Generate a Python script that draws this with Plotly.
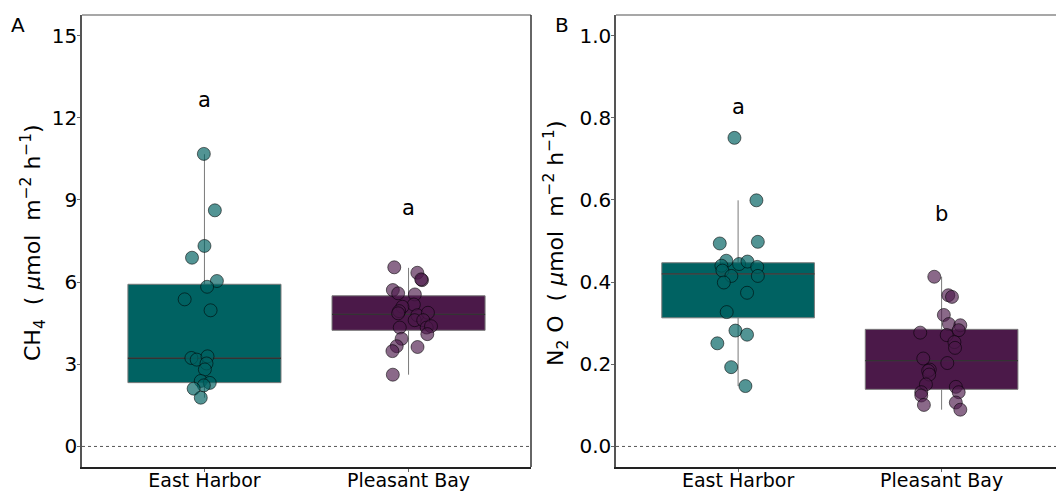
import plotly.graph_objects as go
from plotly.subplots import make_subplots

# ---------------- data ----------------
sites = ["East Harbor", "Pleasant Bay"]
site_pos = [1, 2]

# Panel A: CH4 flux (umol m-2 h-1)
ch4_eh = [10.68, 8.62, 7.32, 6.89, 6.04, 5.83, 5.37, 4.97, 3.23, 3.17, 3.29, 3.03, 2.81, 2.39, 2.32, 2.23, 2.11, 1.78]
ch4_eh_jitter = [-0.003, 0.051, 0.0, -0.061, 0.061, 0.013, -0.097, 0.030, -0.064, -0.038, 0.015, 0.010, 0.002, -0.018, 0.026, -0.003, -0.053, -0.018]
ch4_pb = [6.54, 6.34, 6.07, 6.10, 5.71, 5.59, 5.55, 5.18, 5.10, 4.94, 4.86, 4.79, 4.88, 4.61, 4.61, 4.34, 4.39, 4.34, 4.10, 3.93, 3.66, 3.48, 3.63, 2.62]
ch4_pb_jitter = [-0.070, 0.043, 0.066, 0.062, -0.077, -0.051, 0.031, 0.026, -0.030, -0.046, -0.051, 0.043, 0.095, 0.030, 0.072, 0.089, 0.110, -0.043, 0.092, -0.034, -0.058, -0.079, 0.044, -0.077]

# box statistics: [East Harbor, Pleasant Bay]
ch4_q1 = [2.33, 4.24]
ch4_median = [3.22, 4.82]
ch4_q3 = [5.92, 5.50]
ch4_lower = [1.78, 2.62]
ch4_upper = [10.67, 6.52]
ch4_letters = ["a", "a"]
ch4_letter_y = [12.66, 8.70]

# Panel B: N2O flux (umol m-2 h-1)
n2o_eh = [0.751, 0.599, 0.494, 0.498, 0.452, 0.444, 0.450, 0.440, 0.437, 0.428, 0.415, 0.415, 0.399, 0.374, 0.327, 0.282, 0.272, 0.251, 0.193, 0.147]
n2o_eh_jitter = [-0.018, 0.090, -0.090, 0.097, -0.058, 0.005, 0.046, -0.082, 0.094, -0.077, -0.033, 0.097, -0.070, 0.044, -0.056, -0.013, 0.044, -0.102, -0.034, 0.036]
n2o_pb = [0.413, 0.368, 0.364, 0.320, 0.298, 0.295, 0.277, 0.283, 0.271, 0.254, 0.240, 0.214, 0.203, 0.187, 0.184, 0.175, 0.151, 0.132, 0.124, 0.145, 0.132, 0.101, 0.107, 0.0895]
n2o_pb_jitter = [-0.036, 0.033, 0.051, 0.011, 0.036, 0.092, -0.105, 0.084, 0.025, 0.063, 0.066, -0.090, 0.028, -0.058, -0.066, -0.061, -0.077, -0.100, -0.100, 0.070, 0.084, -0.087, 0.070, 0.092]

n2o_q1 = [0.313, 0.139]
n2o_median = [0.420, 0.209]
n2o_q3 = [0.447, 0.285]
n2o_lower = [0.147, 0.0895]
n2o_upper = [0.599, 0.413]
n2o_letters = ["a", "b"]
n2o_letter_y = [0.827, 0.566]

ch4_ticks = [0, 3, 6, 9, 12, 15]
n2o_ticks = [0.0, 0.2, 0.4, 0.6, 0.8, 1.0]
n2o_ticktext = ["0.0", "0.2", "0.4", "0.6", "0.8", "1.0"]

# ---------------- style ----------------
FONT = "DejaVu Sans"
box_fill = ["#006262", "#4B1949"]
pt_fill = ["rgba(0,98,98,0.68)", "rgba(75,25,73,0.65)"]
pt_line = "rgba(0,0,0,0.55)"
BOX_W = 0.75
W, H = 1056, 492

fig = make_subplots(rows=1, cols=2)
fig.update_layout(
    xaxis=dict(domain=[82 / W, 531 / W]),
    xaxis2=dict(domain=[616 / W, 1.0]),
)

panels = [
    (1, [ch4_eh, ch4_pb], [ch4_eh_jitter, ch4_pb_jitter], ch4_q1, ch4_median, ch4_q3, ch4_lower, ch4_upper,
     ch4_letters, ch4_letter_y),
    (2, [n2o_eh, n2o_pb], [n2o_eh_jitter, n2o_pb_jitter], n2o_q1, n2o_median, n2o_q3, n2o_lower, n2o_upper,
     n2o_letters, n2o_letter_y),
]

for col, vals, jits, q1, med, q3, lo, up, letters, ly in panels:
    for i in range(2):
        fig.add_trace(go.Box(
            x=[site_pos[i]], q1=[q1[i]], median=[med[i]], q3=[q3[i]],
            lowerfence=[lo[i]], upperfence=[up[i]],
            width=BOX_W, fillcolor=box_fill[i],
            line=dict(color="#7a7a7a", width=1), whiskerwidth=0,
            boxpoints=False, showlegend=False, hoverinfo="skip",
        ), row=1, col=col)
        # median line, darker than box border
        fig.add_trace(go.Scatter(
            x=[site_pos[i] - BOX_W / 2, site_pos[i] + BOX_W / 2], y=[med[i], med[i]],
            mode="lines", line=dict(color="#333333", width=1.3),
            showlegend=False, hoverinfo="skip",
        ), row=1, col=col)
    for i in range(2):
        fig.add_trace(go.Scatter(
            x=[site_pos[i] + j for j in jits[i]], y=vals[i], mode="markers",
            marker=dict(size=13, color=pt_fill[i], line=dict(color=pt_line, width=1)),
            showlegend=False, hoverinfo="skip",
        ), row=1, col=col)
    xr = "x" if col == 1 else "x2"
    yr = "y" if col == 1 else "y2"
    for i in range(2):
        fig.add_annotation(x=site_pos[i], y=ly[i], xref=xr, yref=yr, text=letters[i],
                           showarrow=False, font=dict(family=FONT, size=21, color="black"))
    # zero reference line
    fig.add_shape(type="line", xref=f"{xr} domain", yref=yr, x0=0, x1=1, y0=0, y1=0,
                  line=dict(color="#555555", width=1, dash="dot"))
    # top frame
    fig.add_shape(type="line", xref=f"{xr} domain", yref=f"{yr} domain", x0=0, x1=1, y0=1, y1=1,
                  line=dict(color="#8a8a8a", width=1.5))

# right frame of panel A
fig.add_shape(type="line", xref="x domain", yref="y domain", x0=1, x1=1, y0=0, y1=1,
              line=dict(color="#333333", width=1.5))

axis_common = dict(showgrid=False, zeroline=False, ticks="outside", ticklen=3, tickcolor="#666666",
                   tickfont=dict(family=FONT, size=20, color="black"), showline=True, automargin=False)

fig.update_xaxes(**axis_common, tickvals=site_pos, ticktext=sites, linecolor="#222222", linewidth=1.5,
                 ticklabelstandoff=-8)
fig.update_xaxes(tickfont=dict(size=19))
fig.update_xaxes(range=[0.4, 2.6], row=1, col=1)
fig.update_xaxes(range=[0.4, 0.4 + (1056 - 616) / 203.5], row=1, col=2)
fig.update_yaxes(**axis_common, linecolor="#555555", linewidth=1.5, ticklabelstandoff=-4)
fig.update_yaxes(range=[-0.75, 15.75], tickvals=ch4_ticks, row=1, col=1)
fig.update_yaxes(range=[-0.05, 1.05], tickvals=n2o_ticks, ticktext=n2o_ticktext, row=1, col=2)
fig.update_yaxes(domain=[25 / H, (H - 15) / H])

nb = "\u00a0"
ch4_title = f"CH<sub>4</sub>{nb}{nb}({nb}<i>μ</i>mol{nb}{nb}m<sup>−2</sup>{nb}h<sup>−1</sup>)"
n2o_title = f"N<sub>2</sub>{nb}O{nb}{nb}({nb}<i>μ</i>mol{nb}{nb}m<sup>−2</sup>{nb}h<sup>−1</sup>)"
fig.add_annotation(x=33 / W, y=(H - 243) / H, xref="paper", yref="paper", text=ch4_title, textangle=-90,
                   showarrow=False, font=dict(family=FONT, size=22, color="black"),
                   xanchor="center", yanchor="middle")
fig.add_annotation(x=556 / W, y=(H - 243) / H, xref="paper", yref="paper", text=n2o_title, textangle=-90,
                   showarrow=False, font=dict(family=FONT, size=22, color="black"),
                   xanchor="center", yanchor="middle")
fig.add_annotation(x=18 / W, y=(H - 25) / H, xref="paper", yref="paper", text="A", showarrow=False,
                   font=dict(family=FONT, size=20, color="black"), xanchor="center", yanchor="middle")
fig.add_annotation(x=562 / W, y=(H - 25) / H, xref="paper", yref="paper", text="B", showarrow=False,
                   font=dict(family=FONT, size=20, color="black"), xanchor="center", yanchor="middle")

fig.update_layout(
    width=W, height=H, margin=dict(l=0, r=0, t=0, b=0),
    paper_bgcolor="white", plot_bgcolor="white",
    font=dict(family=FONT, color="black"), showlegend=False,
)

fig.write_html("out.html")
